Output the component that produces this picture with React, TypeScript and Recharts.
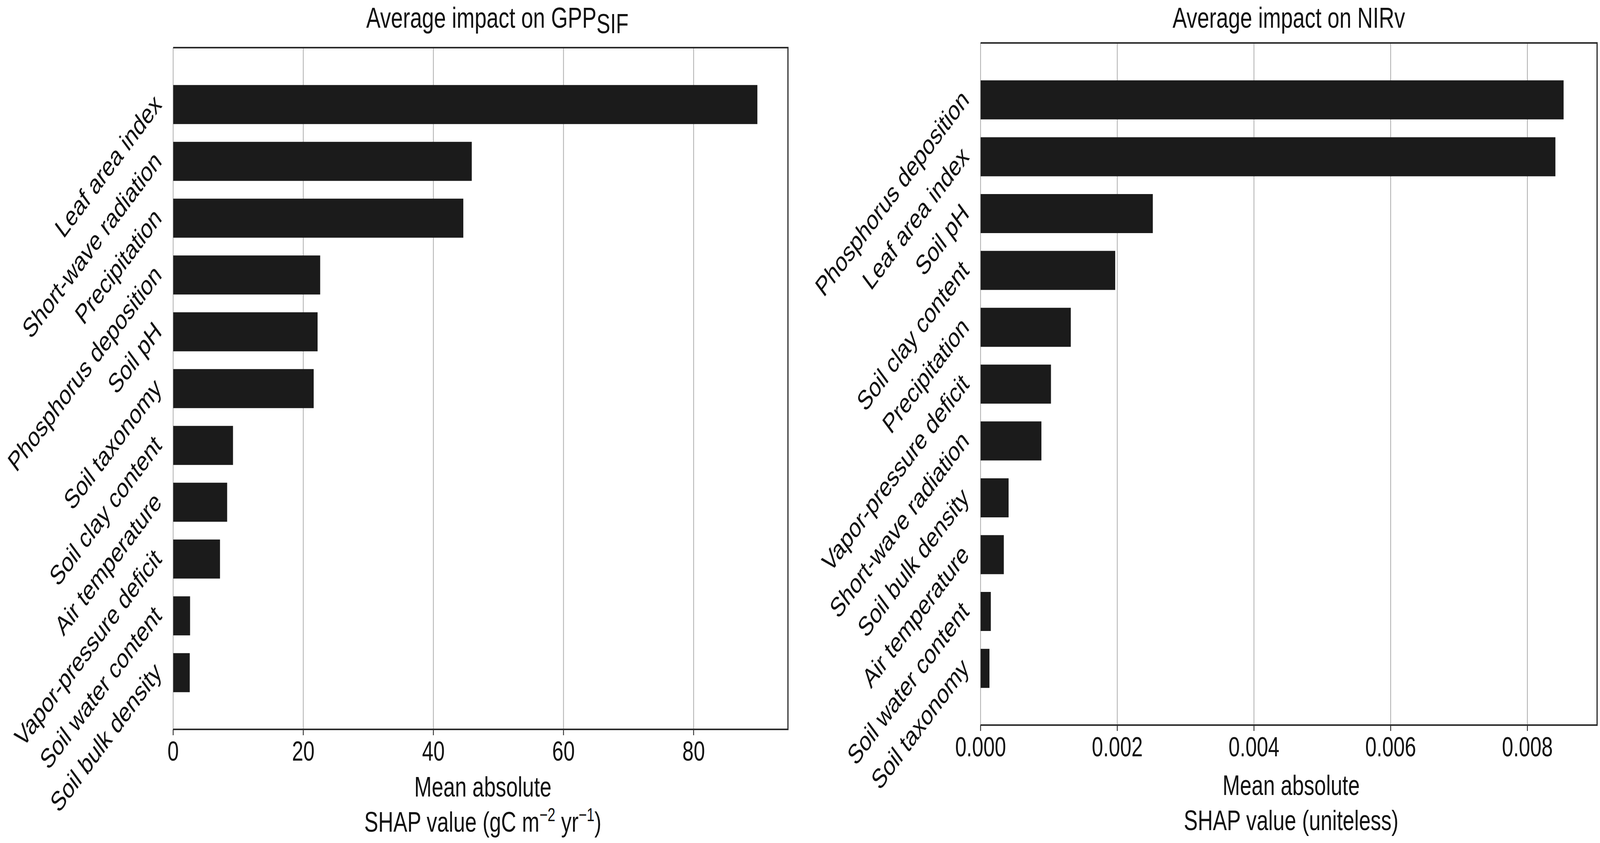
import React from "react"
import {
  BarChart,
  Bar,
  XAxis,
  YAxis,
  CartesianGrid,
  ReferenceArea,
} from "recharts"

const FONT = '"Liberation Sans", Arial, Helvetica, sans-serif'
const INK = "#111"
const FRAME = "#2b2b2b"
const BAR = "#1b1b1b"
const GRID = "#a8a8a8"

// GPP_SIF panel
const gppFeatures = [
  "Leaf area index",
  "Short-wave radiation",
  "Precipitation",
  "Phosphorus deposition",
  "Soil pH",
  "Soil taxonomy",
  "Soil clay content",
  "Air temperature",
  "Vapor-pressure deficit",
  "Soil water content",
  "Soil bulk density",
]
const gppValues = [89.8, 45.9, 44.6, 22.6, 22.2, 21.6, 9.2, 8.3, 7.2, 2.6, 2.55]
const gppTicks = [0, 20, 40, 60, 80]
const gppMax = 94.5

// NIRv panel
const nirvFeatures = [
  "Phosphorus deposition",
  "Leaf area index",
  "Soil pH",
  "Soil clay content",
  "Precipitation",
  "Vapor-pressure deficit",
  "Short-wave radiation",
  "Soil bulk density",
  "Air temperature",
  "Soil water content",
  "Soil taxonomy",
]
const nirvValues = [
  0.00853, 0.00841, 0.00252, 0.00197, 0.00132, 0.00103, 0.00089, 0.00041,
  0.00034, 0.00015, 0.00013,
]
const nirvTicks = [0, 0.002, 0.004, 0.006, 0.008]
const nirvMax = 0.00902

const positions = gppFeatures.map((_, i) => i + 1)

const PAGE_W = 5507
const PAGE_H = 2159

interface PanelProps {
  features: string[]
  values: number[]
  ticks: number[]
  xMax: number
  fmt: (v: number) => string
  left: number
  width: number
  plotLeft: number
  plotRight: number
  plotTop: number
  plotBottom: number
}

function Panel({
  features,
  values,
  ticks,
  xMax,
  fmt,
  left,
  width,
  plotLeft,
  plotRight,
  plotTop,
  plotBottom,
}: PanelProps) {
  const data = features.map((name, i) => ({
    pos: positions[i],
    name,
    value: values[i],
  }))
  const yAxisWidth = 100
  const w = plotRight - plotLeft
  const h = plotBottom - plotTop

  const YTick = ({ x, y, payload }: any) => {
    const label = features[payload.value - 1] ?? ""
    const ty = y + 4
    return (
      <text
        x={x}
        y={ty}
        textAnchor="end"
        fontSize={70}
        fontFamily={FONT}
        fill={INK}
        transform={`rotate(-45, ${x}, ${ty})`}
      >
        {label}
      </text>
    )
  }

  const XTick = ({ x, y, payload }: any) => (
    <text
      x={x}
      y={y + 50}
      textAnchor="middle"
      fontSize={70}
      fontFamily={FONT}
      fill={INK}
    >
      {fmt(payload.value)}
    </text>
  )

  return (
    <div style={{ position: "absolute", left, top: 0, width, height: PAGE_H }}>
      <BarChart
        width={width}
        height={PAGE_H}
        data={data}
        layout="vertical"
        margin={{
          top: plotTop,
          right: width - (plotRight - left),
          bottom: 0,
          left: plotLeft - left - yAxisWidth,
        }}
      >
        <CartesianGrid horizontal={false} stroke={GRID} strokeWidth={2.5} />
        <XAxis
          type="number"
          dataKey="value"
          domain={[0, xMax]}
          ticks={ticks}
          interval={0}
          allowDataOverflow
          height={PAGE_H - plotBottom}
          tickSize={15}
          tickMargin={15}
          tickLine={{ stroke: FRAME, strokeWidth: 3 }}
          axisLine={{ stroke: FRAME, strokeWidth: 4 }}
          tick={<XTick />}
        />
        <YAxis
          type="number"
          dataKey="pos"
          domain={[0, 12]}
          ticks={positions}
          interval={0}
          width={yAxisWidth}
          tickSize={0}
          tickMargin={36}
          tickLine={false}
          axisLine={false}
          tick={<YTick />}
        />
        <ReferenceArea
          x1={0}
          x2={xMax}
          fill="none"
          fillOpacity={0}
          stroke={FRAME}
          strokeWidth={4}
          strokeDasharray={`${w + h + w} ${h}`}
          ifOverflow="visible"
        />
        <Bar
          dataKey="value"
          fill={BAR}
          barSize={100}
          isAnimationActive={false}
        />
      </BarChart>
    </div>
  )
}

function Sup({ children }: { children: React.ReactNode }) {
  return (
    <tspan dy={-27} fontSize={48}>
      {children}
    </tspan>
  )
}

export default function App() {
  const gppCx = (596 + 2712) / 2
  const nirvCx = (3375 + 5497) / 2
  // the figure is laid out at 5507 px; squeeze it horizontally if the viewport is narrower
  const vw = typeof window !== "undefined" ? window.innerWidth : PAGE_W
  const sx = Math.min(1, vw / PAGE_W)
  return (
    <div
      style={{
        position: "absolute",
        left: 0,
        top: 0,
        width: PAGE_W * sx,
        height: PAGE_H,
        overflow: "hidden",
        background: "#fff",
      }}
    >
      <div
        style={{
          position: "absolute",
          left: 0,
          top: 0,
          width: PAGE_W,
          height: PAGE_H,
          background: "#fff",
          transform: `scaleX(${sx})`,
          transformOrigin: "0 0",
        }}
      >
        <Panel
          features={gppFeatures}
          values={gppValues}
          ticks={gppTicks}
          xMax={gppMax}
          fmt={(v) => String(v)}
          left={0}
          width={2740}
          plotLeft={596}
          plotRight={2712}
          plotTop={122}
          plotBottom={1868}
        />
        <Panel
          features={nirvFeatures}
          values={nirvValues}
          ticks={nirvTicks}
          xMax={nirvMax}
          fmt={(v) => v.toFixed(3)}
          left={2760}
          width={2747}
          plotLeft={3375}
          plotRight={5497}
          plotTop={110}
          plotBottom={1857}
        />

        {/* titles and axis labels */}
        <svg
          width={PAGE_W}
          height={PAGE_H}
          style={{ position: "absolute", left: 0, top: 0, pointerEvents: "none" }}
          fontFamily={FONT}
          fill={INK}
        >
          <text x={gppCx + 58} y={71} textAnchor="middle" fontSize={74}>
            Average impact on GPP
            <tspan dy={14} fontSize={71}>SIF</tspan>
          </text>
          <text x={nirvCx} y={71} textAnchor="middle" fontSize={74}>
            Average impact on NIRv
          </text>

          <text x={gppCx + 8} y={2040} textAnchor="middle" fontSize={72}>
            Mean absolute
          </text>
          <text x={gppCx + 8} y={2130} textAnchor="middle" fontSize={72}>
            {"SHAP value (gC m"}
            <Sup>−2</Sup>
            <tspan dy={27}>{" yr"}</tspan>
            <Sup>−1</Sup>
            <tspan dy={27}>)</tspan>
          </text>

          <text x={nirvCx + 8} y={2036} textAnchor="middle" fontSize={72}>
            Mean absolute
          </text>
          <text x={nirvCx + 8} y={2126} textAnchor="middle" fontSize={72}>
            SHAP value (uniteless)
          </text>
        </svg>
      </div>
    </div>
  )
}
